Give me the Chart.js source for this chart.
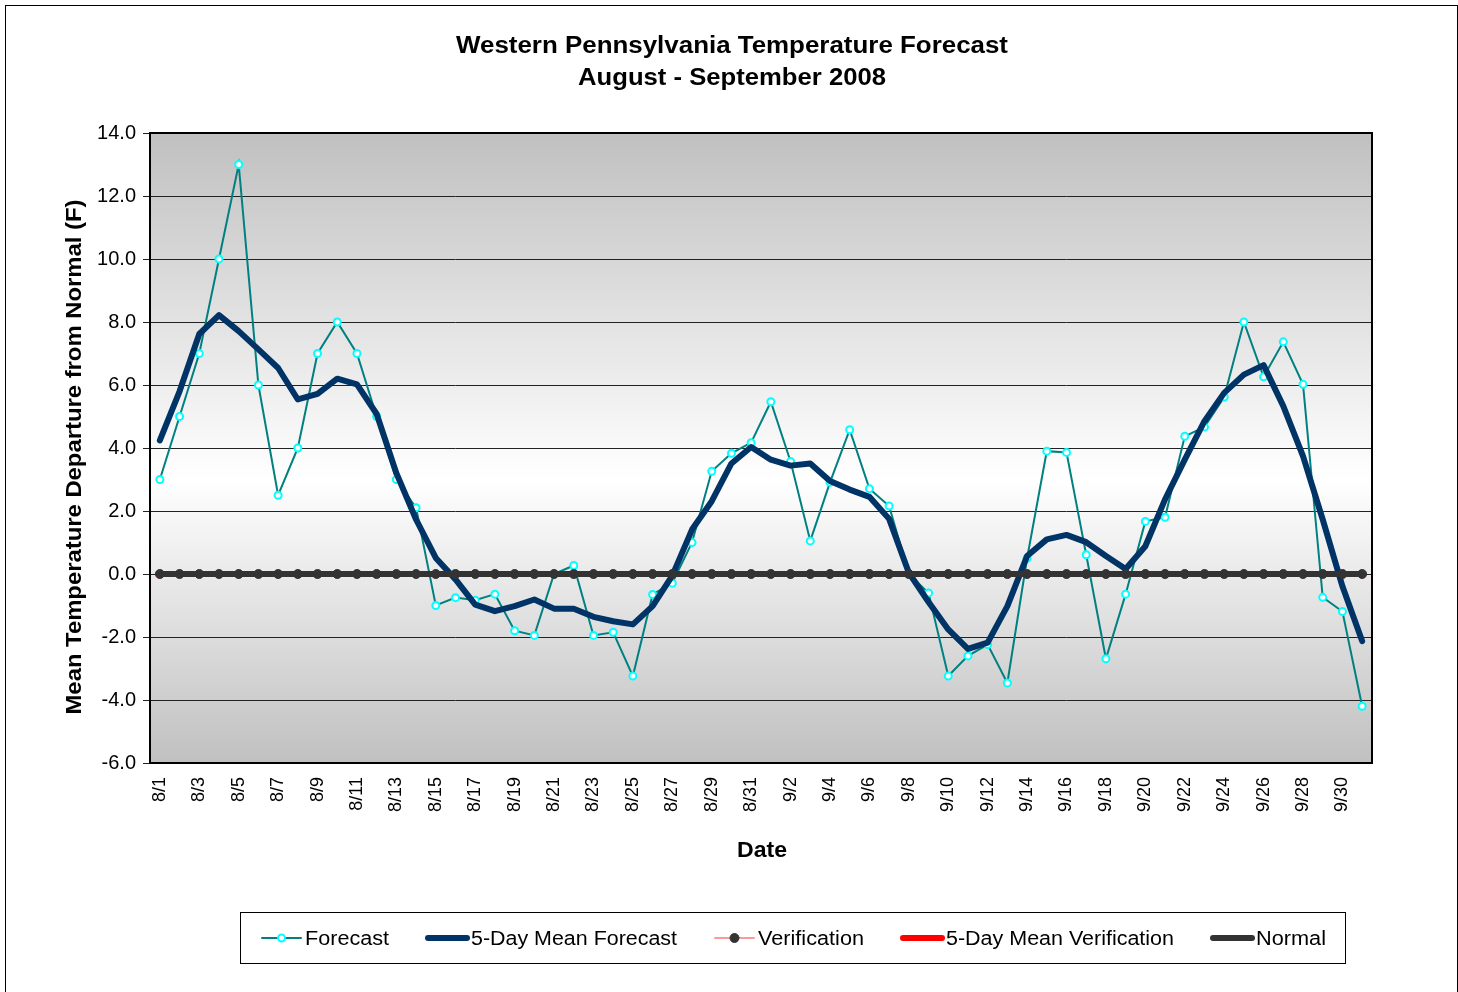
<!DOCTYPE html>
<html lang="en">
<head>
<meta charset="UTF-8">
<title>Western Pennsylvania Temperature Forecast</title>
<script src="https://cdn.jsdelivr.net/npm/chart.js@4.4.1/dist/chart.umd.min.js"></script>
<style>
  html, body { margin: 0; padding: 0; background: #ffffff; }
  #wrap { width: 1458px; height: 992px; }
</style>
</head>
<body>
<div id="wrap"><canvas id="tempChart" width="1458" height="992"></canvas></div>
<script>
// dates 8/1 .. 10/1
const dates = ['8/1','8/2','8/3','8/4','8/5','8/6','8/7','8/8','8/9','8/10',
  '8/11','8/12','8/13','8/14','8/15','8/16','8/17','8/18','8/19','8/20',
  '8/21','8/22','8/23','8/24','8/25','8/26','8/27','8/28','8/29','8/30','8/31',
  '9/1','9/2','9/3','9/4','9/5','9/6','9/7','9/8','9/9','9/10',
  '9/11','9/12','9/13','9/14','9/15','9/16','9/17','9/18','9/19','9/20',
  '9/21','9/22','9/23','9/24','9/25','9/26','9/27','9/28','9/29','9/30','10/1'];

const forecast = [3.0, 5.0, 7.0, 10.0, 13.0, 6.0, 2.5, 4.0, 7.0, 8.0,
  7.0, 5.0, 3.0, 2.1, -1.0, -0.75, -0.83, -0.64, -1.8, -1.95,
  0.0, 0.27, -1.95, -1.85, -3.24, -0.65, -0.29, 1.0, 3.26, 3.83, 4.17,
  5.47, 3.57, 1.05, 2.91, 4.58, 2.71, 2.16, 0.0, -0.6, -3.24,
  -2.6, -2.24, -3.46, 0.5, 3.9, 3.86, 0.61, -2.69, -0.64, 1.67,
  1.8, 4.37, 4.67, 5.62, 8.0, 6.26, 7.37, 6.02, -0.74, -1.19, -4.2];

const meanForecast = [4.24, 5.8, 7.62, 8.22, 7.71, 7.13, 6.54, 5.54, 5.72, 6.2,
  6.02, 5.08, 3.2, 1.73, 0.51, -0.17, -0.97, -1.18, -1.02, -0.81,
  -1.1, -1.1, -1.36, -1.5, -1.6, -1.02, -0.05, 1.41, 2.31, 3.51, 4.03,
  3.63, 3.44, 3.51, 2.95, 2.68, 2.45, 1.75, 0.04, -0.89, -1.76,
  -2.38, -2.18, -1.02, 0.57, 1.1, 1.24, 1.01, 0.57, 0.16, 0.88,
  2.37, 3.63, 4.85, 5.75, 6.33, 6.63, 5.33, 3.74, 1.73, -0.39, -2.13];

const verification = [0,0,0,0,0,0,0,0,0,0, 0,0,0,0,0,0,0,0,0,0, 0,0,0,0,0,0,0,0,0,0,0,
  0,0,0,0,0,0,0,0,0,0, 0,0,0,0,0,0,0,0,0,0, 0,0,0,0,0,0,0,0,0,0,0];
const meanVerification = [0,0,0,0,0,0,0,0,0,0, 0,0,0,0,0,0,0,0,0,0, 0,0,0,0,0,0,0,0,0,0,0,
  0,0,0,0,0,0,0,0,0,0, 0,0,0,0,0,0,0,0,0,0, 0,0,0,0,0,0,0,0,0,0,0];
const normal = [0,0,0,0,0,0,0,0,0,0, 0,0,0,0,0,0,0,0,0,0, 0,0,0,0,0,0,0,0,0,0,0,
  0,0,0,0,0,0,0,0,0,0, 0,0,0,0,0,0,0,0,0,0, 0,0,0,0,0,0,0,0,0,0,0];

const FONT = "'Liberation Sans', Arial, sans-serif";

// text drawn a bit wider than the font, the way the original renders it
function wideText(ctx, text, x, y, width) {
  const w = ctx.measureText(text).width;
  ctx.save();
  ctx.translate(x, y);
  ctx.scale(width / w, 1);
  ctx.fillText(text, 0, 0);
  ctx.restore();
}

// plot background, frame, titles and the legend box
const decor = {
  id: 'decor',
  beforeDraw(chart) {
    const { ctx, chartArea: a } = chart;
    const g = ctx.createLinearGradient(0, a.top, 0, a.bottom);
    g.addColorStop(0, '#c0c0c0');
    g.addColorStop(0.55, '#ffffff');
    g.addColorStop(1, '#c0c0c0');
    ctx.save();
    ctx.fillStyle = g;
    ctx.fillRect(a.left, a.top, a.right - a.left, a.bottom - a.top);
    ctx.restore();
  },
  afterDraw(chart) {
    const { ctx, chartArea: a } = chart;
    ctx.save();
    // outer chart border
    ctx.strokeStyle = '#000';
    ctx.lineWidth = 1;
    ctx.strokeRect(5.5, 5.5, 1452, 1000);
    // plot frame
    ctx.lineWidth = 2;
    ctx.strokeRect(a.left, a.top, a.right - a.left, a.bottom - a.top);

    ctx.fillStyle = '#000';
    ctx.textAlign = 'center';
    ctx.textBaseline = 'middle';
    ctx.font = 'bold 23px ' + FONT;
    wideText(ctx, 'Western Pennsylvania Temperature Forecast', 732, 47, 552);
    wideText(ctx, 'August - September 2008', 732, 79, 308);

    ctx.font = 'bold 22px ' + FONT;
    wideText(ctx, 'Date', 762, 851, 50);
    ctx.save();
    ctx.translate(75, 457);
    ctx.rotate(-Math.PI / 2);
    wideText(ctx, 'Mean Temperature Departure from Normal (F)', 0, 0, 515);
    ctx.restore();

    // legend
    ctx.lineWidth = 1;
    ctx.strokeStyle = '#000';
    ctx.strokeRect(240.5, 912.5, 1105, 51);
    const ly = 938;
    const items = [
      { ds: 0, x: 262, text: 'Forecast', w: 84 },
      { ds: 1, x: 428, text: '5-Day Mean Forecast', w: 206 },
      { ds: 2, x: 715, text: 'Verification', w: 106 },
      { ds: 3, x: 903, text: '5-Day Mean Verification', w: 228 },
      { ds: 4, x: 1213, text: 'Normal', w: 70 }
    ];
    ctx.font = '20px ' + FONT;
    ctx.textAlign = 'left';
    items.forEach(it => {
      const d = chart.data.datasets[it.ds];
      ctx.beginPath();
      ctx.lineCap = 'round';
      ctx.strokeStyle = d.borderColor;
      ctx.lineWidth = d.borderWidth;
      ctx.moveTo(it.x, ly);
      ctx.lineTo(it.x + 39, ly);
      ctx.stroke();
      if (d.pointRadius > 0) {
        ctx.beginPath();
        ctx.arc(it.x + 19.5, ly, d.pointRadius, 0, Math.PI * 2);
        ctx.fillStyle = d.pointBackgroundColor;
        ctx.fill();
        ctx.lineWidth = d.pointBorderWidth;
        ctx.strokeStyle = d.pointBorderColor;
        ctx.stroke();
      }
      ctx.fillStyle = '#000';
      wideText(ctx, it.text, it.x + 43, ly + 1, it.w);
    });
    ctx.restore();
  }
};

new Chart(document.getElementById('tempChart'), {
  type: 'line',
  data: {
    labels: dates,
    datasets: [
      {
        label: 'Forecast',
        data: forecast,
        borderColor: '#008080',
        borderWidth: 2,
        pointRadius: 3.5,
        pointBackgroundColor: '#ffffff',
        pointBorderColor: '#00ffff',
        pointBorderWidth: 2,
        order: 5
      },
      {
        label: '5-Day Mean Forecast',
        data: meanForecast,
        borderColor: '#003366',
        borderWidth: 6,
        borderCapStyle: 'round',
        borderJoinStyle: 'round',
        pointRadius: 0,
        order: 4
      },
      {
        label: 'Verification',
        data: verification,
        borderColor: '#ff9999',
        borderWidth: 2,
        pointRadius: 4.5,
        pointBackgroundColor: '#333333',
        pointBorderColor: '#333333',
        pointBorderWidth: 1,
        order: 3
      },
      {
        label: '5-Day Mean Verification',
        data: meanVerification,
        borderColor: '#ff0000',
        borderWidth: 6,
        borderCapStyle: 'round',
        pointRadius: 0,
        order: 2
      },
      {
        label: 'Normal',
        data: normal,
        borderColor: '#333333',
        borderWidth: 6,
        borderCapStyle: 'round',
        pointRadius: 0,
        order: 1
      }
    ]
  },
  options: {
    responsive: false,
    animation: false,
    layout: { padding: { top: 133, right: 86, bottom: 0, left: 0 } },
    plugins: {
      legend: { display: false },
      title: { display: false },
      tooltip: { enabled: false }
    },
    scales: {
      x: {
        offset: true,
        grid: { display: false, drawTicks: false },
        border: { display: false },
        ticks: {
          autoSkip: false,
          minRotation: 90,
          maxRotation: 90,
          padding: 14,
          color: '#000',
          font: { family: FONT, size: 18 },
          callback: function (value, index) {
            return index % 2 === 0 ? this.getLabelForValue(value) : '';
          }
        },
        afterFit: s => { s.height = 229; }
      },
      y: {
        min: -6,
        max: 14,
        grid: { color: '#222', lineWidth: 1, tickLength: 7 },
        border: { display: false },
        ticks: {
          stepSize: 2,
          padding: 7,
          color: '#000',
          font: { family: FONT, size: 20 },
          callback: v => v.toFixed(1)
        },
        afterFit: s => { s.width = 150; }
      }
    }
  },
  plugins: [decor]
});
</script>
</body>
</html>
